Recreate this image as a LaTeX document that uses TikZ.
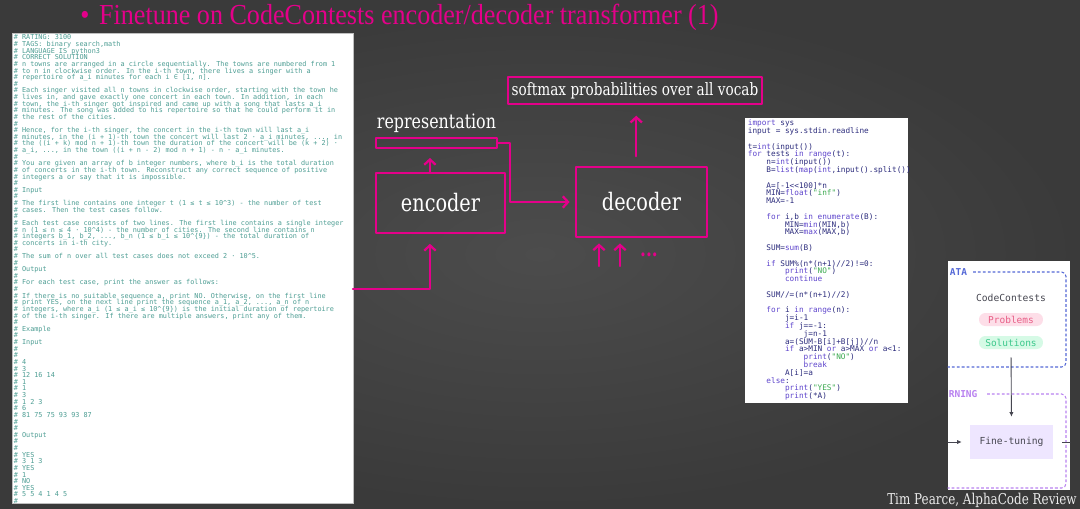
\documentclass[tikz,border=0pt]{standalone}
\usepackage{fontspec}
\setmainfont{Liberation Serif}
\newfontfamily\titlefont[FakeStretch=0.9]{Liberation Serif}
\newfontfamily\handfont[FakeStretch=0.8]{DejaVu Serif}
\newfontfamily\monofont{DejaVu Sans Mono}
\usetikzlibrary{arrows.meta,positioning,calc}

\definecolor{slidebg}{RGB}{58,58,58}
\definecolor{slidebglight}{RGB}{76,76,76}
\definecolor{ink}{RGB}{228,0,138}
\definecolor{prompttext}{RGB}{78,158,148}
\definecolor{codetext}{RGB}{45,45,125}
\definecolor{codekw}{RGB}{95,70,205}
\definecolor{codestr}{RGB}{60,170,80}
\definecolor{databl}{RGB}{85,105,215}
\definecolor{learnpu}{RGB}{185,130,240}
\definecolor{figgray}{RGB}{70,70,80}
\definecolor{probfill}{RGB}{253,222,232}
\definecolor{probtext}{RGB}{232,95,135}
\definecolor{solfill}{RGB}{214,250,230}
\definecolor{soltext}{RGB}{60,200,140}
\definecolor{tunefill}{RGB}{238,230,255}

\newcommand\ind{\hphantom{xxxx}}
\newcommand\pykw[1]{\textcolor{codekw}{#1}}
\newcommand\pystr[1]{\textcolor{codestr}{#1}}
\newcommand\tightlines{\lineskiplimit=-10pt\relax}

\begin{document}
\begin{tikzpicture}[x=0.02cm,y=-0.02cm,
  hand/.style={draw=ink,line width=1.3pt,line cap=round,line join=round},
  arr/.style={hand,-{Straight Barb[length=3pt,width=6.5pt]}},
  panel/.style={fill=white,draw=black!25,line width=0.4pt,inner sep=0pt},
  handlabel/.style={text=white,font=\handfont,inner sep=0pt},
  listing/.style={anchor=north west,inner sep=0pt,align=left},
  figtext/.style={text=figgray,font=\monofont\fontsize{5.5}{6}\selectfont,inner sep=0pt},
  figarr/.style={draw=figgray,line width=0.5pt,-{Latex[length=2.6pt,width=2.4pt]}},
  pill/.style={rounded corners=3.6pt,minimum width=1.28cm,minimum height=0.26cm,inner sep=0pt,font=\monofont\fontsize{5.4}{6}\selectfont},
  groupline/.style={line width=0.6pt,dash pattern=on 1.6pt off 1.2pt,rounded corners=2.5pt},
  grouplabel/.style={anchor=west,inner sep=0pt,font=\monofont\bfseries\fontsize{5.4}{6}\selectfont}]
\useasboundingbox (0,0) rectangle (1080,508);
\fill[slidebg] (0,0) rectangle (1080,508);
\shade[inner color=slidebglight,outer color=slidebg] (0,0) rectangle (1080,508);

\node[anchor=base west,inner sep=0pt,text=ink,font=\titlefont\fontsize{16.5}{18}\selectfont] (title) at (80,24)
  {\textbullet\hspace{5.5pt}Finetune on CodeContests encoder/decoder transformer (1)};

% problem statement
\node[panel,minimum width=6.82cm,minimum height=9.4cm] (prompt) at (182.5,268) {};
\node[listing,text=prompttext,font=\monofont\fontsize{3.88}{3.77}\selectfont\tightlines] (problem) at (13.5,34.5) {%
\# RATING: 3100\\
\# TAGS: binary search,math\\
\# LANGUAGE IS python3\\
\# CORRECT SOLUTION\\
\# n towns are arranged in a circle sequentially. The towns are numbered from 1\\
\# to n in clockwise order. In the i-th town, there lives a singer with a\\
\# repertoire of a\_i minutes for each i ∈ [1, n].\\
\#\\
\# Each singer visited all n towns in clockwise order, starting with the town he\\
\# lives in, and gave exactly one concert in each town. In addition, in each\\
\# town, the i-th singer got inspired and came up with a song that lasts a\_i\\
\# minutes. The song was added to his repertoire so that he could perform it in\\
\# the rest of the cities.\\
\#\\
\# Hence, for the i-th singer, the concert in the i-th town will last a\_i\\
\# minutes, in the (i + 1)-th town the concert will last 2 · a\_i minutes, ..., in\\
\# the ((i + k) mod n + 1)-th town the duration of the concert will be (k + 2) ·\\
\# a\_i, ..., in the town ((i + n - 2) mod n + 1) - n · a\_i minutes.\\
\#\\
\# You are given an array of b integer numbers, where b\_i is the total duration\\
\# of concerts in the i-th town. Reconstruct any correct sequence of positive\\
\# integers a or say that it is impossible.\\
\#\\
\# Input\\
\#\\
\# The first line contains one integer t (1 ≤ t ≤ 10\textasciicircum{}3) - the number of test\\
\# cases. Then the test cases follow.\\
\#\\
\# Each test case consists of two lines. The first line contains a single integer\\
\# n (1 ≤ n ≤ 4 · 10\textasciicircum{}4) - the number of cities. The second line contains n\\
\# integers b\_1, b\_2, ..., b\_n (1 ≤ b\_i ≤ 10\textasciicircum{}\{9\}) - the total duration of\\
\# concerts in i-th city.\\
\#\\
\# The sum of n over all test cases does not exceed 2 · 10\textasciicircum{}5.\\
\#\\
\# Output\\
\#\\
\# For each test case, print the answer as follows:\\
\#\\
\# If there is no suitable sequence a, print NO. Otherwise, on the first line\\
\# print YES, on the next line print the sequence a\_1, a\_2, ..., a\_n of n\\
\# integers, where a\_i (1 ≤ a\_i ≤ 10\textasciicircum{}\{9\}) is the initial duration of repertoire\\
\# of the i-th singer. If there are multiple answers, print any of them.\\
\#\\
\# Example\\
\#\\
\# Input\\
\#\\
\#\\
\# 4\\
\# 3\\
\# 12 16 14\\
\# 1\\
\# 1\\
\# 3\\
\# 1 2 3\\
\# 6\\
\# 81 75 75 93 93 87\\
\#\\
\#\\
\# Output\\
\#\\
\#\\
\# YES\\
\# 3 1 3\\
\# YES\\
\# 1\\
\# NO\\
\# YES\\
\# 5 5 4 1 4 5\\
\#};

% solution code
\node[panel,draw=none,minimum width=3.26cm,minimum height=5.7cm] (sol) at (826.5,260.5) {};
\begin{scope}
\clip (sol.north west) rectangle (sol.south east);
\node[listing,text=codetext,font=\monofont\fontsize{4.4}{4.44}\selectfont\tightlines] (code) at (747.5,119.5) {%
\pykw{import} sys\\
input = sys.stdin.readline\\
\mbox{}\\
t=\pykw{int}(input())\\
\pykw{for} tests \pykw{in} \pykw{range}(t):\\
\ind n=\pykw{int}(input())\\
\ind B=\pykw{list}(\pykw{map}(\pykw{int},input().split()))\\
\mbox{}\\
\ind A=[-1<<100]*n\\
\ind MIN=\pykw{float}(\pystr{"inf"})\\
\ind MAX=-1\\
\mbox{}\\
\ind\pykw{for} i,b \pykw{in} \pykw{enumerate}(B):\\
\ind\ind MIN=\pykw{min}(MIN,b)\\
\ind\ind MAX=\pykw{max}(MAX,b)\\
\mbox{}\\
\ind SUM=\pykw{sum}(B)\\
\mbox{}\\
\ind\pykw{if} SUM\%(n*(n+1)//2)!=0:\\
\ind\ind\pykw{print}(\pystr{"NO"})\\
\ind\ind\pykw{continue}\\
\mbox{}\\
\ind SUM//=(n*(n+1)//2)\\
\mbox{}\\
\ind\pykw{for} i \pykw{in} \pykw{range}(n):\\
\ind\ind j=i-1\\
\ind\ind\pykw{if} j==-1:\\
\ind\ind\ind j=n-1\\
\ind\ind a=(SUM-B[i]+B[j])//n\\
\ind\ind\pykw{if} a>MIN \pykw{or} a>MAX \pykw{or} a<1:\\
\ind\ind\ind\pykw{print}(\pystr{"NO"})\\
\ind\ind\ind\pykw{break}\\
\ind\ind A[i]=a\\
\ind\pykw{else}:\\
\ind\ind\pykw{print}(\pystr{"YES"})\\
\ind\ind\pykw{print}(*A)};
\end{scope}

% cropped overview figure
\node[panel,draw=none,minimum width=2.44cm,minimum height=4.58cm] (fig) at (1009,375.5) {};
\begin{scope}
\clip (fig.north west) rectangle (fig.south east);
\draw[groupline,databl] (973,272) -- (1066,272) -- (1066,367) -- (940,367);
\node[grouplabel,text=databl] (datalabel) at (949.5,272) {ATA};
\draw[groupline,learnpu] (987,394) -- (1066,394) -- (1066,488) -- (940,488);
\node[grouplabel,text=learnpu] (learnlabel) at (948.5,394) {RNING};
\node[figtext] (cc) at (1011,298) {CodeContests};
\node[pill,fill=probfill,text=probtext] (prob) at (1011,319.5) {Problems};
\node[pill,fill=solfill,text=soltext] (solu) at (1011,342.5) {Solutions};
\node[figtext,fill=tunefill,minimum width=1.66cm,minimum height=0.68cm] (tune) at (1011.5,442) {Fine-tuning};
\draw[figarr,shorten <=4.5pt,shorten >=4.5pt] (solu.south) -- (tune.north);
\coordinate (feed) at (935,442);
\draw[figarr,shorten >=4.5pt] (feed) -- (tune.west);
\coordinate (next) at (1090,442);
\draw[figgray,line width=0.5pt,shorten <=5pt] (tune.east) -- (next);
\end{scope}

% encoder / decoder sketch
\node[hand,handlabel,font=\handfont\fontsize{13.7}{16}\selectfont,minimum width=2.58cm,minimum height=1.2cm] (enc) at (440.5,203) {encoder};
\node[hand,minimum width=2.42cm,minimum height=0.2cm,inner sep=0pt] (rep) at (436.5,143) {};
\node[handlabel,font=\handfont\fontsize{11.3}{13}\selectfont,above=2pt of rep] (replabel) {representation};
\node[hand,handlabel,font=\handfont\fontsize{13.7}{16}\selectfont,minimum width=2.62cm,minimum height=1.4cm] (dec) at (641.5,202) {decoder};
\node[hand,handlabel,font=\handfont\fontsize{9.7}{11}\selectfont,minimum width=5.08cm,minimum height=0.54cm] (soft) at (635,90.5) {softmax probabilities over all vocab};

\coordinate (encup) at ([xshift=-6pt]enc.north);
\draw[arr,shorten >=5pt] (encup) -- (encup |- rep.south);
\draw[arr,shorten >=3pt] (rep.east) -- ++(12,0) |- (dec.west);
\coordinate (decup) at ([xshift=-3pt]dec.north);
\draw[arr,shorten <=5.5pt,shorten >=6pt] (decup) -- (decup |- soft.south);
\coordinate (tok1) at (599,266);
\coordinate (tok2) at (620,266);
\draw[arr,shorten >=3pt] (tok1) -- (tok1 |- dec.south);
\draw[arr,shorten >=3pt] (tok2) -- (tok2 |- dec.south);
\node[text=ink,font=\handfont\bfseries\fontsize{12}{13}\selectfont] (more) at (649,255) {...};
\coordinate (src) at (353,289);
\coordinate (encin) at ([xshift=-6pt]enc.south);
\draw[arr,shorten >=5.5pt] (src) -| (encin);

\node[anchor=base east,inner sep=0pt,text=white!92!black,font=\handfont\fontsize{8.5}{10}\selectfont] (credit) at (1077,504) {Tim Pearce, AlphaCode Review};
\end{tikzpicture}
\end{document}
